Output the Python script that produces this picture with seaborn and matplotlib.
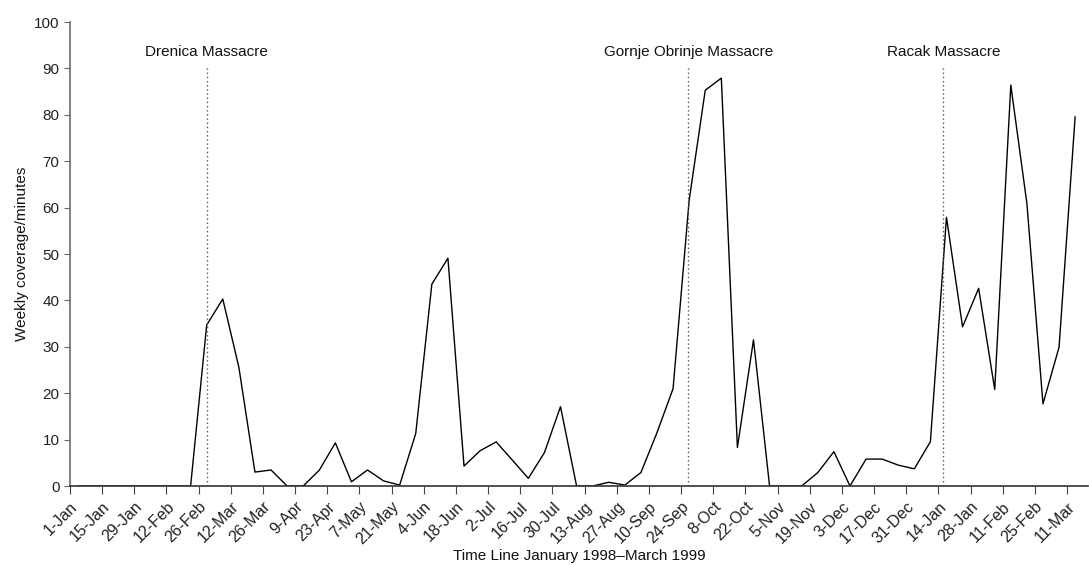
import matplotlib
matplotlib.use("Agg")
import matplotlib.pyplot as plt
import seaborn as sns
import pandas as pd
import numpy as np

# Weekly coverage (minutes), Jan 1998 - Mar 1999, one value per week
coverage = [0, 0, 0, 0, 0, 0, 0, 0, 34.7, 40.3,
            25.6, 3.0, 3.45, 0, 0, 3.4, 9.3, 0.9, 3.45, 1.1,
            0.2, 11.35, 43.5, 49.1, 4.3, 7.6, 9.5, 5.6, 1.65, 7.2,
            17.1, 0, 0, 0.8, 0.2, 2.9, 11.5, 21.0, 61.6, 85.3,
            87.9, 8.3, 31.5, 0, 0, 0, 2.9, 7.4, 0, 5.8,
            5.8, 4.5, 3.7, 9.55, 57.9, 34.3, 42.6, 20.8, 86.4, 60.9,
            17.7, 29.9, 79.6]

tick_labels = ["1-Jan", "15-Jan", "29-Jan", "12-Feb", "26-Feb", "12-Mar", "26-Mar",
               "9-Apr", "23-Apr", "7-May", "21-May", "4-Jun", "18-Jun", "2-Jul",
               "16-Jul", "30-Jul", "13-Aug", "27-Aug", "10-Sep", "24-Sep", "8-Oct",
               "22-Oct", "5-Nov", "19-Nov", "3-Dec", "17-Dec", "31-Dec", "14-Jan",
               "28-Jan", "11-Feb", "25-Feb", "11-Mar"]

events = ["Drenica Massacre", "Gornje Obrinje Massacre", "Racak Massacre"]
event_weeks = [8.5, 38.45, 54.3]

weeks = np.arange(len(coverage)) + 0.5
df = pd.DataFrame({"week": weeks, "minutes": coverage})

sns.set_style("ticks")
plt.rcParams['font.family'] = ['Liberation Sans', 'DejaVu Sans']

fig = plt.figure(figsize=(10.89, 5.65), dpi=100)
ax = fig.add_axes([70/1089, 79/565, 1018/1089, 464/565])

sns.lineplot(data=df, x="week", y="minutes", ax=ax, color="black", linewidth=1.0)

for name, w in zip(events, event_weeks):
    ax.plot([w, w], [0, 90], linestyle=(0, (1, 2)), color="#555555", linewidth=1.0)
    ax.text(w, 93.5, name, ha="center", va="center", fontsize=11, color="#111111")

ax.set_xlim(0, 63.3)
ax.set_ylim(0, 100)
ax.set_yticks(np.arange(0, 101, 10))
ax.set_xticks(np.arange(0, 2 * len(tick_labels), 2))
ax.set_xticklabels(tick_labels, rotation=45, ha="right", rotation_mode="anchor")
ax.tick_params(axis="both", colors="#222222", direction="out")
ax.tick_params(axis="y", length=4, color="#666666", labelsize=11)
ax.tick_params(axis="x", length=6, color="#444444", labelsize=11.5)

ax.set_xlabel("Time Line January 1998\u2013March 1999", fontsize=11, color="#111111",
              labelpad=1)
ax.set_ylabel("Weekly coverage/minutes", fontsize=11, color="#111111")

sns.despine(ax=ax)
ax.spines["left"].set_color("#777777")
ax.spines["left"].set_linewidth(1.3)
ax.spines["bottom"].set_color("#333333")
ax.spines["bottom"].set_linewidth(1.2)

fig.savefig("out.png", dpi=100)
